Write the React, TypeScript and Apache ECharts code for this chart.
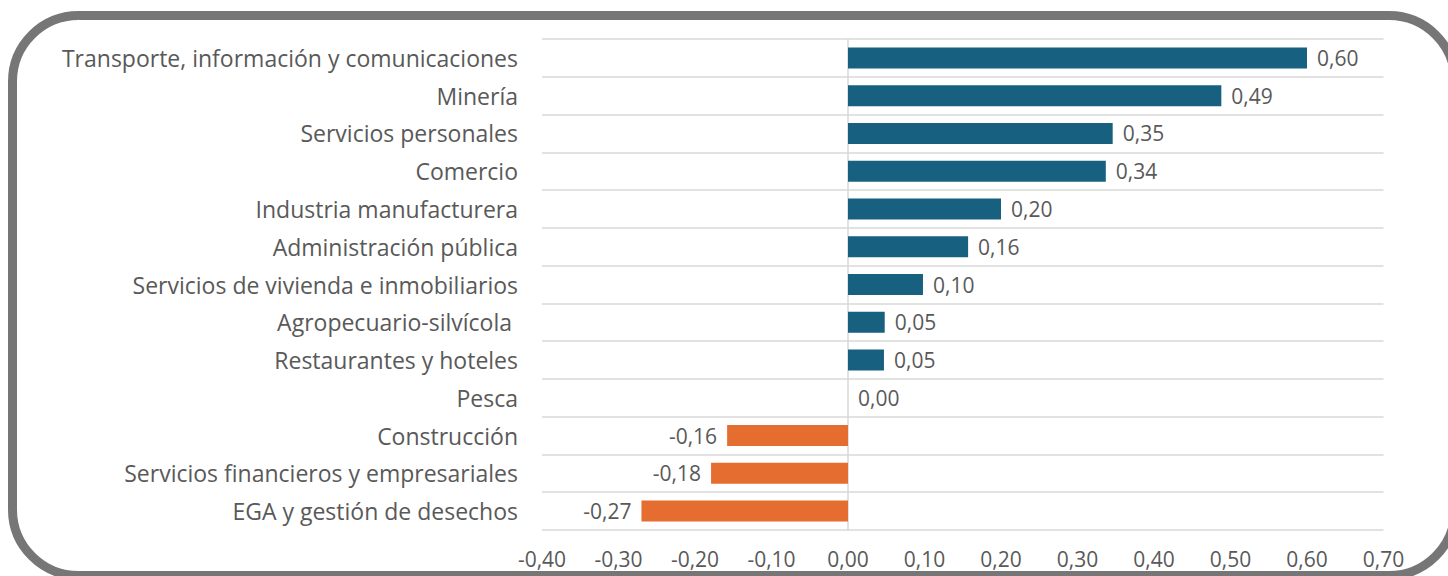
import React, { useEffect, useRef } from "react";
import * as echarts from "echarts";

const categories = [
  "Transporte, información y comunicaciones",
  "Minería",
  "Servicios personales",
  "Comercio",
  "Industria manufacturera",
  "Administración pública",
  "Servicios de vivienda e inmobiliarios",
  "Agropecuario-silvícola ",
  "Restaurantes y hoteles",
  "Pesca",
  "Construcción",
  "Servicios financieros y empresariales",
  "EGA y gestión de desechos",
];

const values = [0.6, 0.488, 0.346, 0.337, 0.2, 0.157, 0.098, 0.048, 0.047, 0.0, -0.158, -0.179, -0.27];

const axisMin = -0.4;
const axisMax = 0.7;
const axisStep = 0.1;

const POS_COLOR = "#17607f";
const NEG_COLOR = "#e56d30";
const TEXT_COLOR = "#595959";
const FONT = "'Open Sans', 'Noto Sans', sans-serif";

const fmt = (v: number) => v.toFixed(2).replace(".", ",");

export default function App() {
  const ref = useRef<HTMLDivElement>(null);
  useEffect(() => {
    if (!ref.current) return;
    const chart = echarts.init(ref.current, null, { renderer: "svg" });
    chart.setOption({
      animation: false,
      backgroundColor: "#ffffff",
      grid: { left: 542, right: 64.5, top: 39, bottom: 46, containLabel: false },
      xAxis: {
        type: "value",
        min: axisMin,
        max: axisMax,
        interval: axisStep,
        axisLine: { show: false },
        axisTick: { show: false },
        splitLine: { show: false },
        axisLabel: {
          color: TEXT_COLOR,
          fontSize: 21,
          fontFamily: FONT,
          margin: 18,
          formatter: (v: number) => fmt(v),
        },
      },
      yAxis: {
        type: "category",
        inverse: true,
        data: categories,
        axisLine: { show: true, onZero: true, lineStyle: { color: "#d9d9d9", width: 1.5 } },
        axisTick: { show: false },
        splitLine: { show: true, lineStyle: { color: "#d9d9d9", width: 1.5 } },
        axisLabel: {
          color: TEXT_COLOR,
          fontSize: 23,
          fontFamily: FONT,
          margin: 24,
        },
      },
      series: [
        {
          type: "bar",
          barWidth: 21,
          data: values.map((v) => ({
            value: v,
            itemStyle: { color: v < 0 ? NEG_COLOR : POS_COLOR },
            label: {
              show: true,
              position: v < 0 ? "left" : "right",
              distance: 10,
              color: TEXT_COLOR,
              fontSize: 21,
              fontFamily: FONT,
              formatter: () => fmt(v),
            },
          })),
        },
      ],
      graphic: [
        {
          type: "rect",
          shape: { x: 12.5, y: 15.5, width: 1442.5, height: 560, r: 66 },
          style: { fill: "none", stroke: "#767676", lineWidth: 9 },
          silent: true,
          z: 100,
        },
      ],
    });
    return () => chart.dispose();
  }, []);
  return (
    <div
      ref={ref}
      style={{ position: "fixed", left: 0, top: 0, width: 1448, height: 576 }}
    />
  );
}
